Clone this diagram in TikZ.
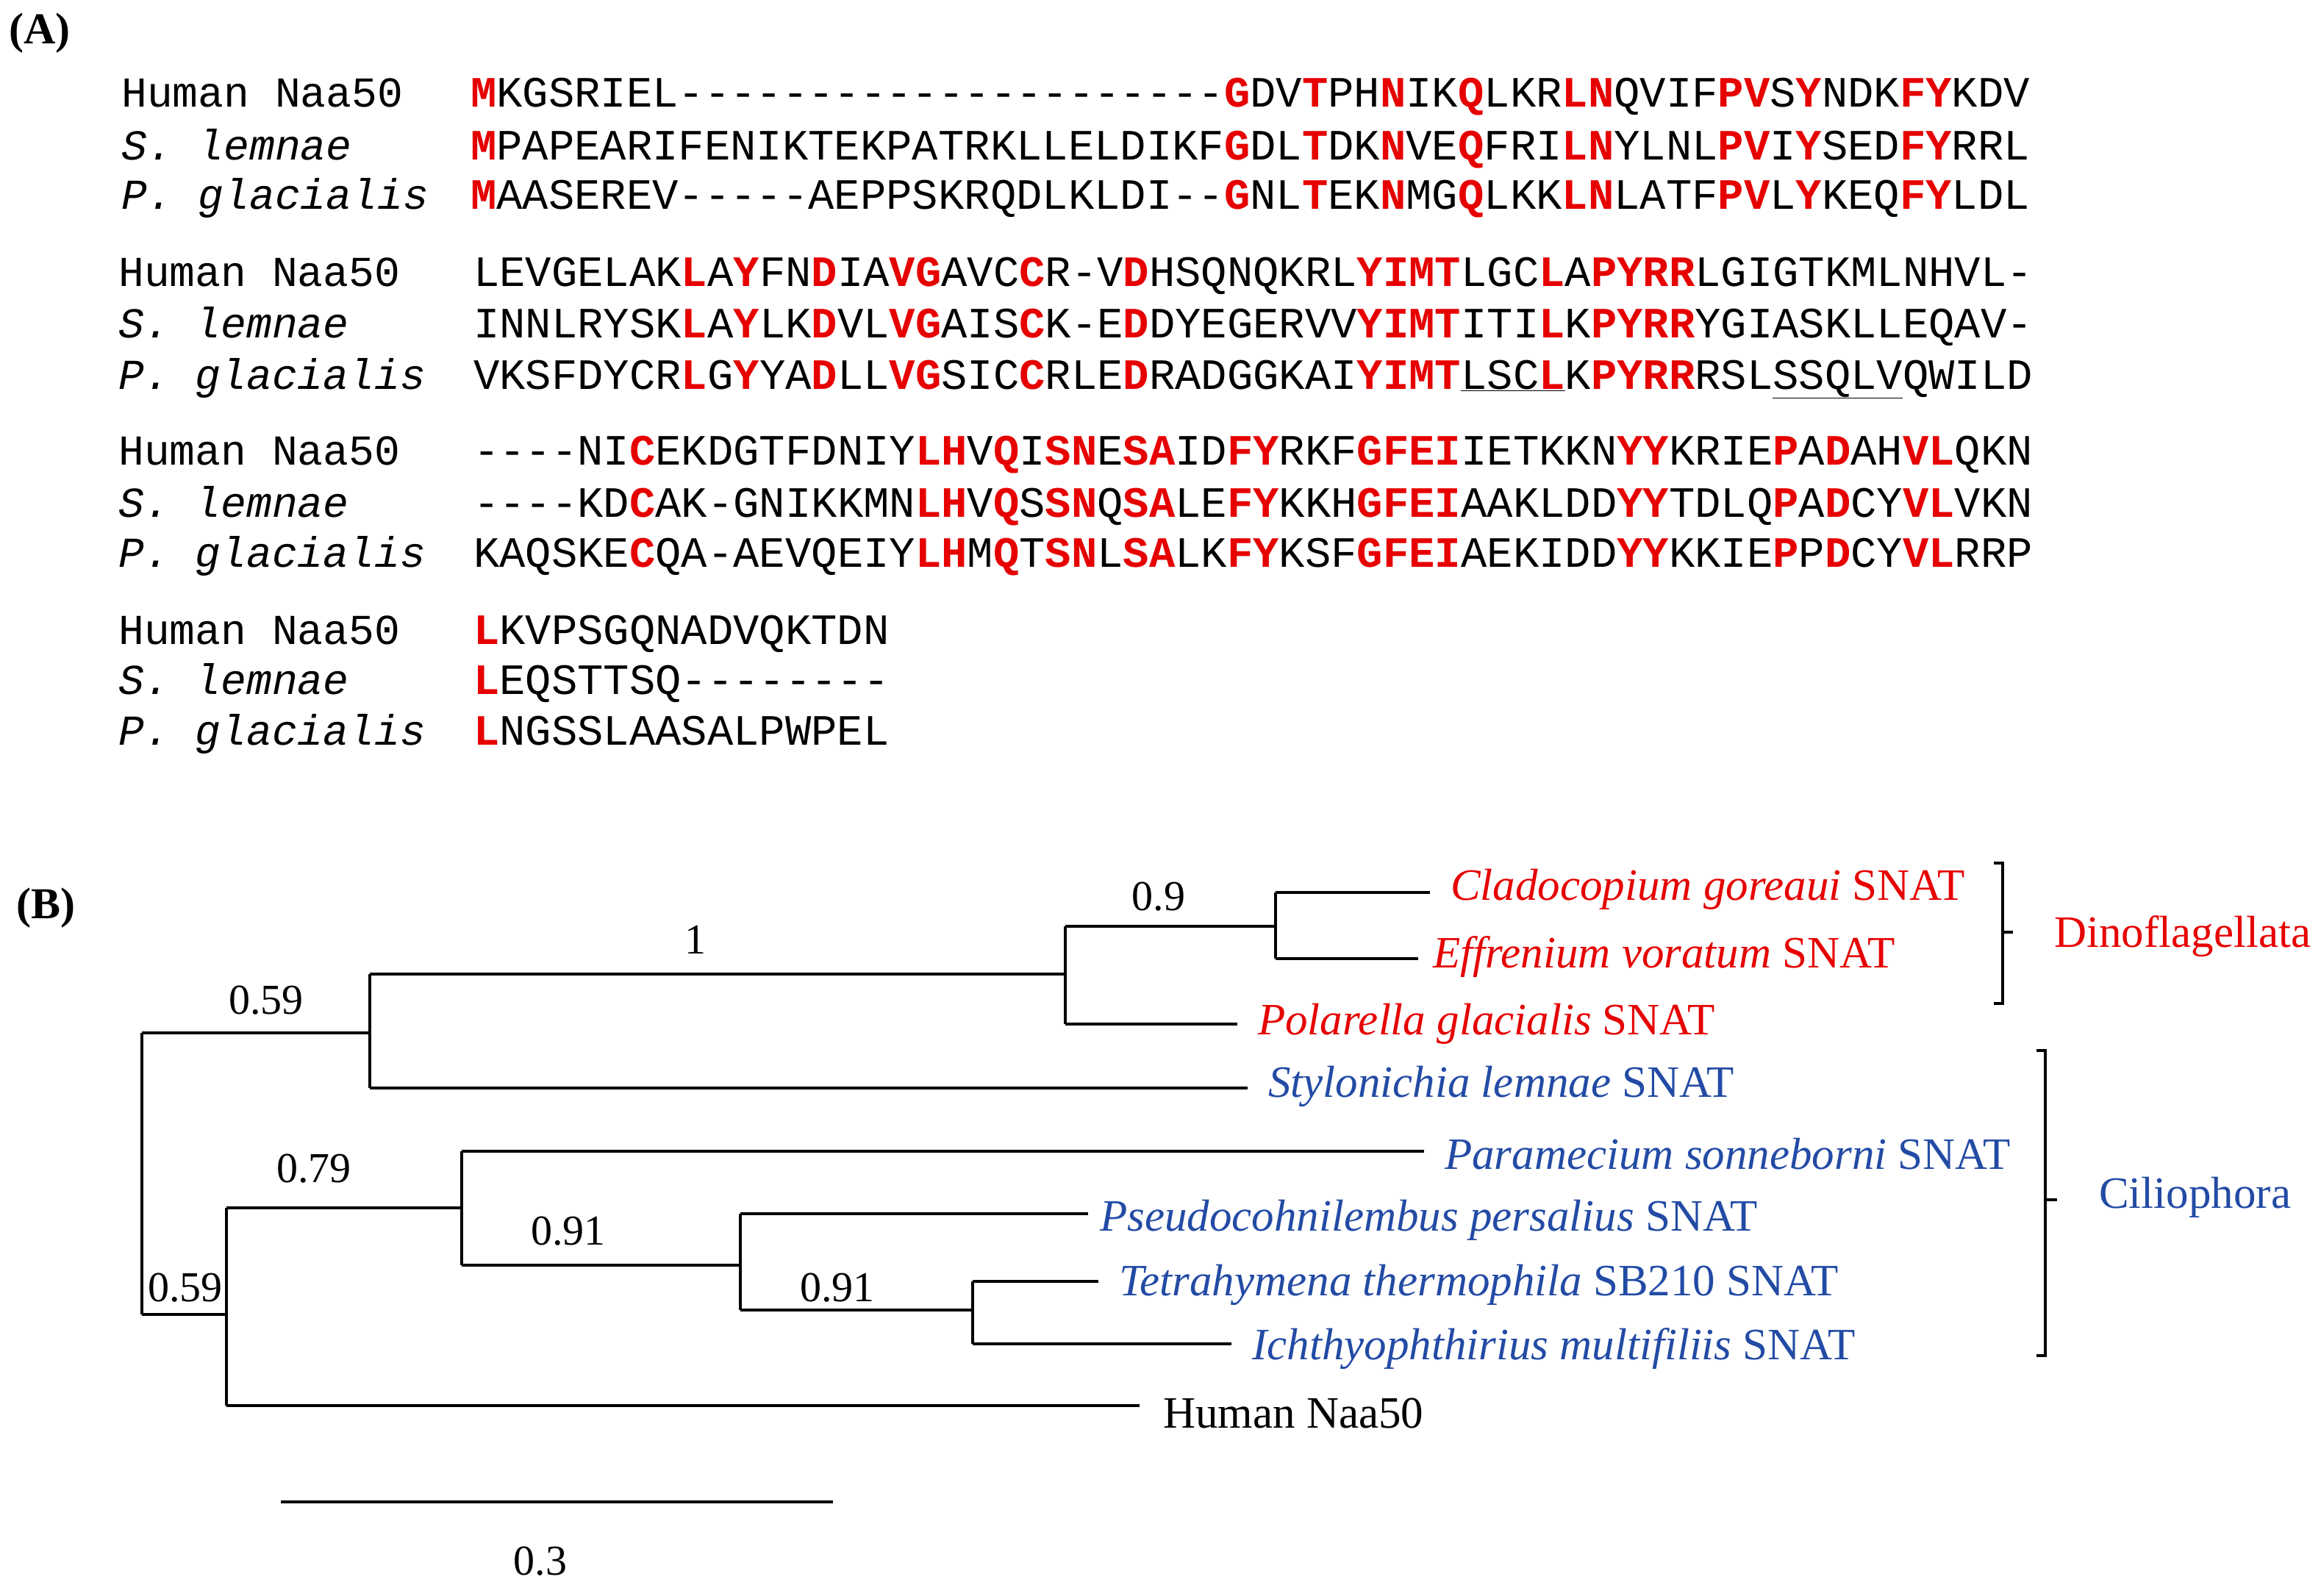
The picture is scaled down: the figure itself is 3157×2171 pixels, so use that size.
\documentclass[tikz,border=0pt]{standalone}
\usepackage{fontspec}
\setmainfont{Liberation Serif}
\setmonofont{Liberation Mono}
\definecolor{hl}{RGB}{230,0,0}
\definecolor{cb}{RGB}{35,75,165}
\newcommand\R[1]{\textcolor{hl}{\textbf{#1}}}
\begin{document}
\begin{tikzpicture}[x=1pt,y=-1pt,
  seq/.style={anchor=base west,inner sep=0pt,font=\ttfamily\fontsize{58.9}{60}\selectfont},
  lab/.style={anchor=base west,inner sep=0pt,font=\ttfamily\fontsize{58}{60}\selectfont},
  tl/.style={anchor=west,inner sep=0pt,font=\fontsize{61}{64}\selectfont},
  sup/.style={inner sep=0pt,font=\fontsize{58}{60}\selectfont},
  br/.style={line width=3.5pt},
  panel/.style={anchor=west,inner sep=0pt,font=\bfseries\fontsize{60}{62}\selectfont}]
\useasboundingbox (0,0) rectangle (3157,2171);
\node[panel] (pA) at (12,45) {(A)};
\node[panel] (pB) at (22,1235) {(B)};
% block 1
\node[lab] (l11) at (165,145) {Human Naa50};
\node[lab] (l12) at (165,217) {\itshape S. lemnae};
\node[lab] (l13) at (165,284) {\itshape P. glacialis};
\node[seq] (s11) at (640,145) {\R{M}KGSRIEL---------------------\R{G}DV\R{T}PH\R{N}IK\R{Q}LKR\R{LN}QVIF\R{PV}S\R{Y}NDK\R{FY}KDV};
\node[seq] (s12) at (640,217) {\R{M}PAPEARIFENIKTEKPATRKLLELDIKF\R{G}DL\R{T}DK\R{N}VE\R{Q}FRI\R{LN}YLNL\R{PV}I\R{Y}SED\R{FY}RRL};
\node[seq] (s13) at (640,284) {\R{M}AASEREV-----AEPPSKRQDLKLDI--\R{G}NL\R{T}EK\R{N}MG\R{Q}LKK\R{LN}LATF\R{PV}L\R{Y}KEQ\R{FY}LDL};
% block 2
\node[lab] (l21) at (161,389) {Human Naa50};
\node[lab] (l22) at (161,459) {\itshape S. lemnae};
\node[lab] (l23) at (161,529) {\itshape P. glacialis};
\node[seq] (s21) at (644,389) {LEVGELAK\R{L}A\R{Y}FN\R{D}IA\R{VG}AVC\R{C}R-V\R{D}HSQNQKRL\R{YIMT}LGC\R{L}A\R{PYRR}LGIGTKMLNHVL-};
\node[seq] (s22) at (644,459) {INNLRYSK\R{L}A\R{Y}LK\R{D}VL\R{VG}AIS\R{C}K-E\R{D}DYEGERVV\R{YIMT}ITI\R{L}K\R{PYRR}YGIASKLLEQAV-};
\node[seq] (s23) at (644,529) {VKSFDYCR\R{L}G\R{Y}YA\R{D}LL\R{VG}SIC\R{C}RLE\R{D}RADGGKAI\R{YIMT}\underline{LSC\R{L}}K\R{PYRR}RSL\underline{SSQLV}QWILD};
% block 3
\node[lab] (l31) at (161,632) {Human Naa50};
\node[lab] (l32) at (161,703) {\itshape S. lemnae};
\node[lab] (l33) at (161,771) {\itshape P. glacialis};
\node[seq] (s31) at (644,632) {----NI\R{C}EKDGTFDNIY\R{LH}V\R{Q}I\R{SN}E\R{SA}ID\R{FY}RKF\R{GFEI}IETKKN\R{YY}KRIE\R{P}A\R{D}AH\R{VL}QKN};
\node[seq] (s32) at (644,703) {----KD\R{C}AK-GNIKKMN\R{LH}V\R{Q}S\R{SN}Q\R{SA}LE\R{FY}KKH\R{GFEI}AAKLDD\R{YY}TDLQ\R{P}A\R{D}CY\R{VL}VKN};
\node[seq] (s33) at (644,771) {KAQSKE\R{C}QA-AEVQEIY\R{LH}M\R{Q}T\R{SN}L\R{SA}LK\R{FY}KSF\R{GFEI}AEKIDD\R{YY}KKIE\R{P}P\R{D}CY\R{VL}RRP};
% block 4
\node[lab] (l41) at (161,876) {Human Naa50};
\node[lab] (l42) at (161,944) {\itshape S. lemnae};
\node[lab] (l43) at (161,1013) {\itshape P. glacialis};
\node[seq] (s41) at (644,876) {\R{L}KVPSGQNADVQKTDN};
\node[seq] (s42) at (644,944) {\R{L}EQSTTSQ--------};
\node[seq] (s43) at (644,1013) {\R{L}NGSSLAASALPWPEL};
% tree coordinates
\coordinate (r1) at (193,1405); \coordinate (r2) at (193,1788);
\coordinate (a) at (503,1405); \coordinate (a1) at (503,1325); \coordinate (a2) at (503,1480);
\coordinate (b) at (1449,1325); \coordinate (b1) at (1449,1260); \coordinate (b2) at (1449,1393);
\coordinate (c) at (1735,1260); \coordinate (c1) at (1735,1214); \coordinate (c2) at (1735,1304);
\coordinate (d) at (308,1788); \coordinate (d1) at (308,1643); \coordinate (d2) at (308,1912);
\coordinate (e) at (628,1643); \coordinate (e1) at (628,1566); \coordinate (e2) at (628,1721);
\coordinate (f) at (1007,1721); \coordinate (f1) at (1007,1651); \coordinate (f2) at (1007,1782);
\coordinate (g) at (1323,1782); \coordinate (g1) at (1323,1743); \coordinate (g2) at (1323,1828);
\node[tl,text=hl] (t1) at (1973,1210) {\itshape Cladocopium goreaui \upshape SNAT};
\node[tl,text=hl] (t2) at (1949,1302) {\itshape Effrenium voratum \upshape SNAT};
\node[tl,text=hl] (t3) at (1711,1393) {\itshape Polarella glacialis \upshape SNAT};
\node[tl,text=cb] (t4) at (1725,1478) {\itshape Stylonichia lemnae \upshape SNAT};
\node[tl,text=cb] (t5) at (1965,1570) {\itshape Paramecium sonneborni \upshape SNAT};
\node[tl,text=cb] (t6) at (1496,1660) {\itshape Pseudocohnilembus persalius \upshape SNAT};
\node[tl,text=cb] (t7) at (1522,1748) {\itshape Tetrahymena thermophila \upshape SB210 SNAT};
\node[tl,text=cb] (t8) at (1703,1835) {\itshape Ichthyophthirius multifiliis \upshape SNAT};
\node[tl] (t9) at (1582,1922) {Human Naa50};
\draw[br] (r1) -- (r2);
\draw[br] (r1) -- (a); \draw[br] (a1) -- (a2);
\draw[br] (a1) -- (b); \draw[br] (b1) -- (b2);
\draw[br] (b1) -- (c); \draw[br] (c1) -- (c2);
\draw[br] (c1) -- (1945,1214); \draw[br] (c2) -- (1929,1304);
\draw[br] (b2) -- (1683,1393); \draw[br] (a2) -- (1697,1480);
\draw[br] (r2) -- (d); \draw[br] (d1) -- (d2);
\draw[br] (d1) -- (e); \draw[br] (e1) -- (e2);
\draw[br] (e1) -- (1937,1566);
\draw[br] (e2) -- (f); \draw[br] (f1) -- (f2);
\draw[br] (f1) -- (1480,1651);
\draw[br] (f2) -- (g); \draw[br] (g1) -- (g2);
\draw[br] (g1) -- (1494,1743); \draw[br] (g2) -- (1675,1828);
\draw[br] (d2) -- (1550,1912);
\node[sup] (n1) at (362,1361) {0.59};
\node[sup] (n2) at (946,1278) {1};
\node[sup] (n3) at (1576,1220) {0.9};
\node[sup] (n4) at (427,1590) {0.79};
\node[sup] (n5) at (773,1675) {0.91};
\node[sup] (n6) at (1139,1752) {0.91};
\node[sup] (n7) at (252,1752) {0.59};
\coordinate (s1) at (382,2043); \coordinate (s2) at (1133,2043);
\draw[br] (s1) -- (s2);
\node[sup] (sl) at (735,2124) {0.3};
% brackets
\draw[line width=4pt] (2712,1174) -- (2724,1174) -- (2724,1365) -- (2712,1365);
\draw[line width=4pt] (2724,1268) -- (2738,1268);
\node[tl,text=hl] (dino) at (2794,1274) {Dinoflagellata};
\draw[line width=4pt] (2770,1429) -- (2782,1429) -- (2782,1844) -- (2770,1844);
\draw[line width=4pt] (2782,1632) -- (2798,1632);
\node[tl,text=cb] (cil) at (2855,1629) {Ciliophora};
\end{tikzpicture}
\end{document}
